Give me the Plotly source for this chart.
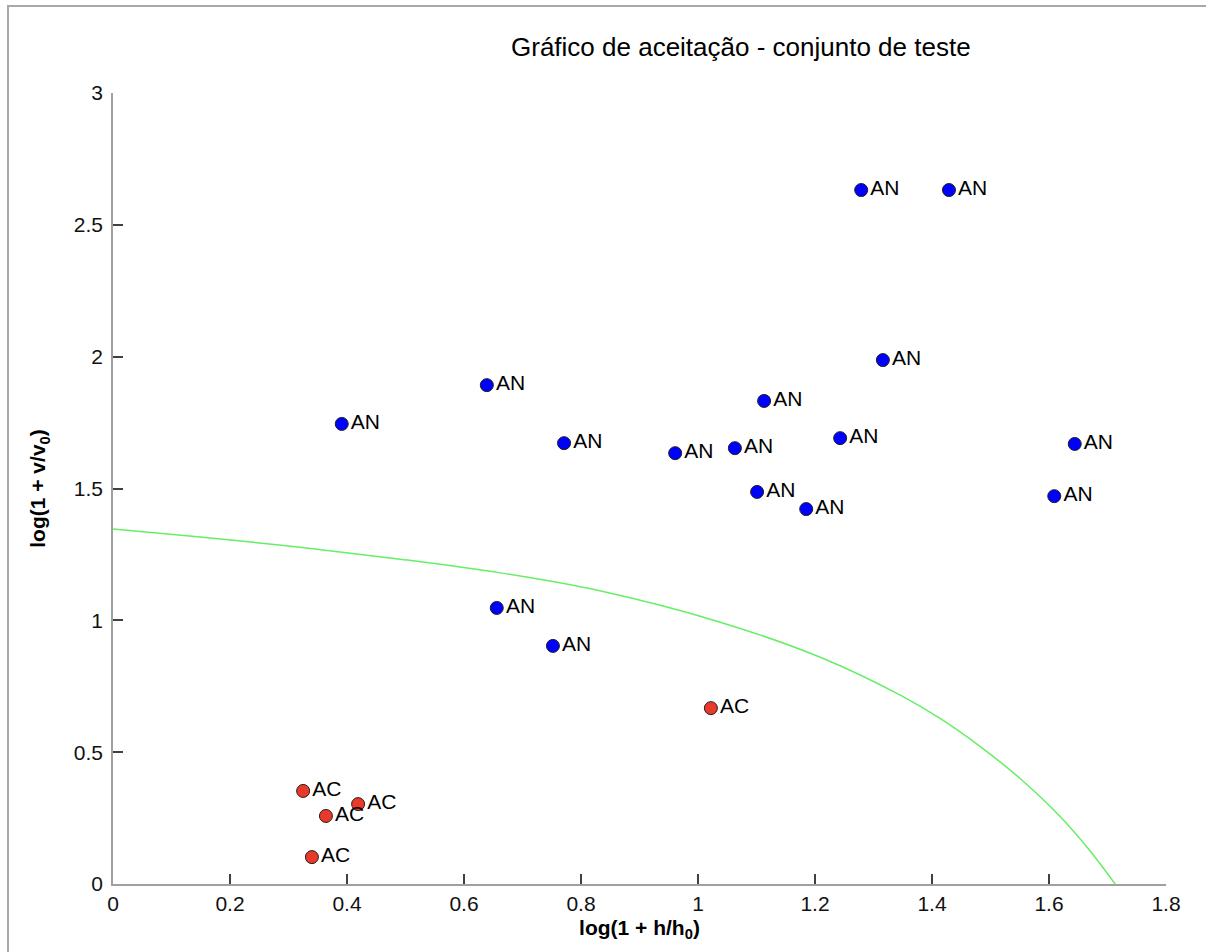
import plotly.graph_objects as go

# AN (blue) points
an_x = [1.279, 1.429, 1.316, 0.639, 1.113, 0.391, 0.771, 0.961, 1.063, 1.243, 1.644, 1.101, 1.185, 1.609, 0.656, 0.752]
an_y = [2.632, 2.632, 1.987, 1.892, 1.832, 1.745, 1.672, 1.634, 1.653, 1.691, 1.669, 1.487, 1.422, 1.471, 1.047, 0.903]

# AC (red) points
ac_x = [1.022, 0.325, 0.419, 0.364, 0.340]
ac_y = [0.667, 0.353, 0.303, 0.258, 0.102]

# acceptance boundary curve
curve_x = [0.0, 0.149, 0.320, 0.491, 0.662, 0.832, 1.038, 1.209, 1.345, 1.415, 1.482, 1.550, 1.619, 1.670, 1.713]
curve_y = [1.346, 1.316, 1.277, 1.232, 1.180, 1.112, 0.993, 0.860, 0.717, 0.626, 0.522, 0.401, 0.256, 0.126, 0.0]

x_ticks = [0, 0.2, 0.4, 0.6, 0.8, 1, 1.2, 1.4, 1.6, 1.8]
y_ticks = [0, 0.5, 1, 1.5, 2, 2.5, 3]

FONT = "Liberation Sans, Arial, sans-serif"

fig = go.Figure()
fig.add_trace(go.Scatter(x=curve_x, y=curve_y, mode="lines", line=dict(color="#66ee66", width=1.5),
                         line_shape="spline", hoverinfo="skip", showlegend=False))
fig.add_trace(go.Scatter(x=an_x, y=an_y, mode="markers+text", text=["AN"] * len(an_x),
                         textposition="middle right", textfont=dict(family=FONT, size=21, color="black"),
                         marker=dict(size=13, color="#0000ff", line=dict(color="#202020", width=1)),
                         showlegend=False, cliponaxis=False))
fig.add_trace(go.Scatter(x=ac_x, y=ac_y, mode="markers+text", text=["AC"] * len(ac_x),
                         textposition="middle right", textfont=dict(family=FONT, size=21, color="black"),
                         marker=dict(size=13, color="#e8392a", line=dict(color="#202020", width=1)),
                         showlegend=False, cliponaxis=False))

fig.update_layout(
    width=1206, height=952,
    margin=dict(l=113, r=40, t=93, b=68),
    paper_bgcolor="white", plot_bgcolor="white",
    font=dict(family=FONT, size=21, color="black"),
    xaxis=dict(range=[0, 1.8], tickvals=x_ticks, ticktext=[f"{v:g}" for v in x_ticks],
               tickfont=dict(size=21, color="#111111"),
               showgrid=False, zeroline=False, showline=True, linecolor="#a0a0a0", linewidth=1.5,
               ticks="inside", ticklen=10, tickcolor="#404040", tickwidth=1.5,
               title=dict(text="<b>log(1 + h/h<sub>0</sub>)</b>", font=dict(size=21), standoff=6)),
    yaxis=dict(range=[0, 3], tickvals=y_ticks, ticktext=[f"{v:g}" for v in y_ticks],
               tickfont=dict(size=21, color="#111111"), ticklabelstandoff=4,
               showgrid=False, zeroline=False, showline=True, linecolor="#a0a0a0", linewidth=1.5,
               ticks="inside", ticklen=10, tickcolor="#404040", tickwidth=1.5,
               title=dict(text="<b>log(1 + v/v<sub>0</sub>)</b>", font=dict(size=21), standoff=22)),
    annotations=[dict(text="Gráfico de aceitação - conjunto de teste", xref="paper", yref="paper",
                      x=(741 - 113) / 1053, y=(884 - 47) / 791, xanchor="center", yanchor="middle",
                      showarrow=False, font=dict(family=FONT, size=26, color="black"))],
    shapes=[dict(type="rect", xref="paper", yref="paper",
                 x0=(8 - 113) / 1053, x1=(1300 - 113) / 1053,
                 y0=(884 - 1000) / 791, y1=(884 - 6) / 791,
                 line=dict(color="#a8a8a8", width=2), layer="below")],
)

fig.write_html("out.html")
